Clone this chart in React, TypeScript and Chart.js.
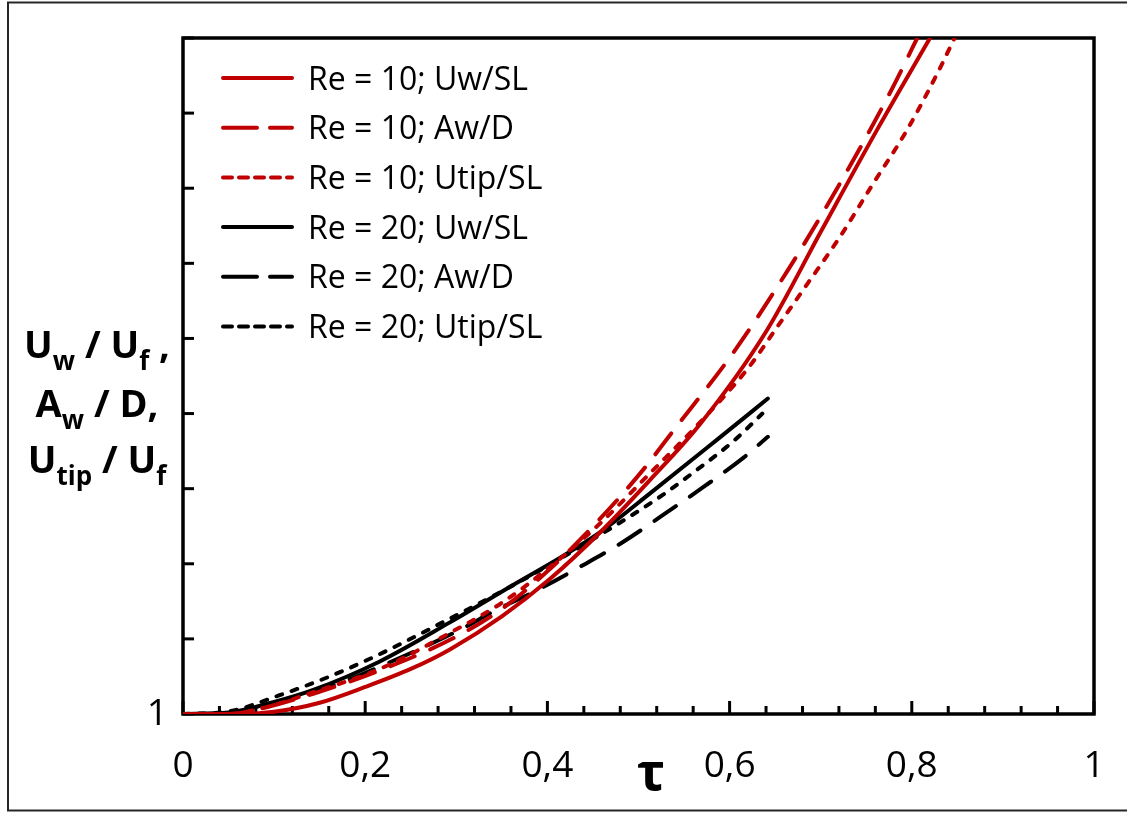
import React, { useEffect, useRef } from 'react';
import { Chart, registerables } from 'chart.js';

Chart.register(...registerables);

// ---------- data ----------
const seriesLabels = [
  'Re = 10; Uw/SL',
  'Re = 10; Aw/D',
  'Re = 10; Utip/SL',
  'Re = 20; Uw/SL',
  'Re = 20; Aw/D',
  'Re = 20; Utip/SL',
];

const re10UwTau = [0, 0.06, 0.1, 0.15, 0.2, 0.25, 0.293, 0.35, 0.403, 0.458, 0.513, 0.567, 0.641, 0.701, 0.762, 0.82, 0.84];
const re10UwVal = [1, 1, 1.03, 1.15, 1.36, 1.6, 1.86, 2.3, 2.8, 3.42, 4.12, 4.85, 6.11, 7.44, 8.78, 10, 10.42];

const re10AwTau = [0, 0.05, 0.088, 0.143, 0.216, 0.3, 0.35, 0.4, 0.454, 0.505, 0.54, 0.604, 0.664, 0.72, 0.773, 0.806, 0.83];
const re10AwVal = [1, 1, 1.08, 1.27, 1.58, 2.03, 2.4, 2.9, 3.55, 4.25, 4.8, 5.81, 6.91, 8.04, 9.2, 10, 10.6];

const re10UtipTau = [0, 0.05, 0.088, 0.143, 0.216, 0.293, 0.35, 0.403, 0.458, 0.513, 0.565, 0.62, 0.655, 0.685, 0.721, 0.757, 0.795, 0.831, 0.847, 0.86];
const re10UtipVal = [1, 1, 1.08, 1.29, 1.6, 2.08, 2.48, 2.96, 3.54, 4.21, 4.85, 5.6, 6.2, 6.72, 7.35, 8.05, 8.78, 9.6, 10, 10.3];

const re20UwTau = [0, 0.05, 0.1, 0.143, 0.216, 0.293, 0.367, 0.414, 0.458, 0.513, 0.586, 0.642];
const re20UwVal = [1, 1.02, 1.16, 1.32, 1.7, 2.22, 2.75, 3.08, 3.42, 3.94, 4.65, 5.2];

const re20AwTau = [0, 0.05, 0.106, 0.161, 0.216, 0.307, 0.34, 0.389, 0.436, 0.483, 0.527, 0.571, 0.615, 0.642];
const re20AwVal = [1, 1, 1.15, 1.36, 1.63, 2.14, 2.36, 2.65, 2.96, 3.29, 3.65, 4.02, 4.41, 4.69];

const re20UtipTau = [0, 0.048, 0.106, 0.161, 0.213, 0.293, 0.348, 0.403, 0.476, 0.527, 0.564, 0.604, 0.636];
const re20UtipVal = [1, 1.03, 1.25, 1.5, 1.78, 2.27, 2.62, 2.99, 3.52, 3.92, 4.25, 4.63, 5.0];

const xTickLabels = ['0', '0,2', '0,4', '0,6', '0,8', '1'];
const xMinorTickValues = [0, 0.04, 0.08, 0.12, 0.16, 0.2, 0.24, 0.28, 0.32, 0.36, 0.4, 0.44, 0.48, 0.52, 0.56, 0.6, 0.64, 0.68, 0.72, 0.76, 0.8, 0.84, 0.88, 0.92, 0.96, 1];
const yTickValues = [1, 2, 3, 4, 5, 6, 7, 8, 9, 10];
const yLabelShown = [1];

const xTitle = 'τ';
// y title lines: [text, isSubscript]
const yTitleLines: [string, boolean][][] = [
  [['U', false], ['w', true], [' / U', false], ['f', true], [' ,', false]],
  [['A', false], ['w', true], [' / D,', false]],
  [['U', false], ['tip', true], [' / U', false], ['f', true]],
];

// ---------- styles ----------
const RED = '#C00000';
const BLACK = '#000000';
const LONG = [26, 17];
const SHORT = [6, 10];
const seriesStyle = [
  { color: RED, dash: [] as number[], legendDash: [] as number[] },
  { color: RED, dash: LONG, legendDash: [34, 13] },
  { color: RED, dash: SHORT, legendDash: [9, 7] },
  { color: BLACK, dash: [] as number[], legendDash: [] as number[] },
  { color: BLACK, dash: LONG, legendDash: [34, 13] },
  { color: BLACK, dash: SHORT, legendDash: [9, 7] },
];

const seriesTau = [re10UwTau, re10AwTau, re10UtipTau, re20UwTau, re20AwTau, re20UtipTau];
const seriesVal = [re10UwVal, re10AwVal, re10UtipVal, re20UwVal, re20AwVal, re20UtipVal];

const FONT = '"Open Sans", "Noto Sans", sans-serif';

const customPlugin = {
  id: 'customDecor',
  beforeDraw(chart: any) {
    const ctx = chart.ctx;
    ctx.save();
    ctx.fillStyle = '#ffffff';
    ctx.fillRect(0, 0, chart.width, chart.height);
    ctx.strokeStyle = '#262626';
    ctx.lineWidth = 2;
    ctx.strokeRect(8, 2.5, chart.width + 20, 808);
    ctx.restore();
  },
  beforeDatasetsDraw(chart: any) {
    const { ctx, chartArea: a, scales } = chart;
    ctx.save();
    ctx.strokeStyle = '#000';
    ctx.lineWidth = 3;
    ctx.lineCap = 'butt';
    for (const v of xMinorTickValues) {
      const px = scales.x.getPixelForValue(v);
      const major = Math.abs(v / 0.2 - Math.round(v / 0.2)) < 1e-6;
      const len = major ? 13 : 8;
      ctx.beginPath();
      ctx.moveTo(px, a.bottom);
      ctx.lineTo(px, a.bottom - len);
      ctx.stroke();
    }
    for (const v of yTickValues) {
      const py = scales.y.getPixelForValue(v);
      ctx.beginPath();
      ctx.moveTo(a.left, py);
      ctx.lineTo(a.left + 11, py);
      ctx.stroke();
    }
    ctx.lineWidth = 3.5;
    ctx.lineJoin = 'miter';
    ctx.strokeRect(a.left, a.top, a.right - a.left, a.bottom - a.top);
    ctx.restore();
  },
  afterDraw(chart: any) {
    const { ctx } = chart;
    ctx.save();
    // legend
    const ds = chart.data.datasets;
    for (let i = 0; i < ds.length; i++) {
      const y = 78 + i * 49.7;
      const st = seriesStyle[i];
      ctx.strokeStyle = st.color;
      ctx.lineWidth = 4;
      ctx.lineCap = 'round';
      ctx.setLineDash(st.legendDash);
      ctx.beginPath();
      ctx.moveTo(223, y);
      ctx.lineTo(292, y);
      ctx.stroke();
      ctx.setLineDash([]);
      ctx.fillStyle = '#000';
      ctx.font = `32px ${FONT}`;
      ctx.textAlign = 'left';
      ctx.textBaseline = 'alphabetic';
      ctx.fillText(ds[i].label, 308, y + 11.5);
    }
    // x title
    ctx.font = `bold 52px ${FONT}`;
    ctx.textAlign = 'center';
    ctx.textBaseline = 'alphabetic';
    ctx.fillStyle = '#000';
    ctx.fillText(xTitle, 651, 790);
    // y title
    const mainFont = `bold 38px ${FONT}`;
    const subFont = `bold 26px ${FONT}`;
    const baselines = [358, 417, 473];
    const cx = 97;
    yTitleLines.forEach((segs, li) => {
      let total = 0;
      const widths = segs.map(([t, sub]) => {
        ctx.font = sub ? subFont : mainFont;
        const w = ctx.measureText(t).width;
        total += w;
        return w;
      });
      let x = cx - total / 2;
      ctx.textAlign = 'left';
      segs.forEach(([t, sub], k) => {
        ctx.font = sub ? subFont : mainFont;
        ctx.fillText(t, x, baselines[li] + (sub ? 12 : 0));
        x += widths[k];
      });
    });
    ctx.restore();
  },
};

export default function App() {
  const ref = useRef<HTMLCanvasElement | null>(null);
  useEffect(() => {
    if (!ref.current) return;
    const datasets = seriesLabels.map((label, i) => ({
      label,
      data: seriesTau[i].map((t, k) => ({ x: t, y: seriesVal[i][k] })),
      borderColor: seriesStyle[i].color,
      backgroundColor: seriesStyle[i].color,
      borderDash: seriesStyle[i].dash,
      borderCapStyle: 'round' as const,
      borderWidth: 4,
      pointRadius: 0,
      fill: false,
      cubicInterpolationMode: 'monotone' as const,
    }));
    const chart = new Chart(ref.current, {
      type: 'line',
      data: { datasets },
      options: {
        responsive: false,
        animation: false,
        layout: { padding: { top: 38, right: 33, left: 0, bottom: 0 } },
        plugins: { legend: { display: false }, tooltip: { enabled: false } },
        scales: {
          x: {
            type: 'linear',
            min: 0,
            max: 1,
            afterFit: (s: any) => {
              s.height = 99;
              s.paddingLeft = 0;
              s.paddingRight = 0;
            },
            grid: { display: false, drawTicks: false },
            border: { display: false },
            ticks: {
              stepSize: 0.2,
              padding: 30,
              maxRotation: 0,
              autoSkip: false,
              color: '#000',
              font: { family: FONT, size: 37 },
              callback: (_v: any, i: number) => xTickLabels[i],
            },
          },
          y: {
            type: 'linear',
            min: 1,
            max: 10,
            afterFit: (s: any) => {
              s.width = 183;
              s.paddingTop = 0;
              s.paddingBottom = 0;
            },
            grid: { display: false, drawTicks: false },
            border: { display: false },
            ticks: {
              stepSize: 1,
              padding: 15,
              color: '#000',
              font: { family: FONT, size: 37 },
              callback: (v: any) => (yLabelShown.includes(Number(v)) ? String(v) : ''),
            },
          },
        },
      },
      plugins: [customPlugin],
    });
    return () => chart.destroy();
  }, []);
  return (
    <div style={{ position: 'fixed', left: 0, top: 0, width: 1127, height: 813 }}>
      <canvas ref={ref} width={1127} height={813} style={{ display: 'block' }} />
    </div>
  );
}
